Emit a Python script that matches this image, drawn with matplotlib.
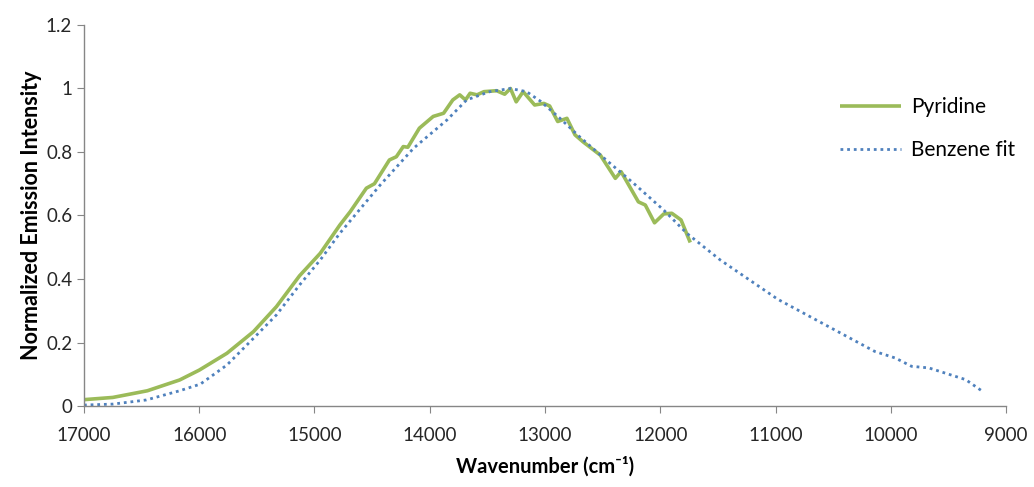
import numpy as np
import matplotlib
matplotlib.use('Agg')
import matplotlib.pyplot as plt
from matplotlib.ticker import FuncFormatter

# Pyridine emission
pyr_wn = [17000, 16750, 16450, 16170, 16000, 15760, 15530, 15330, 15130, 14950,
          14780, 14690, 14550, 14480, 14350, 14290, 14230, 14190, 14090, 13970,
          13880, 13800, 13740, 13690, 13650, 13590, 13530, 13420, 13350, 13300,
          13250, 13190, 13090, 13010, 12960, 12890, 12810, 12740, 12670, 12520,
          12390, 12340, 12190, 12130, 12050, 11970, 11900, 11820, 11740]
pyr_int = [0.020, 0.027, 0.048, 0.082, 0.113, 0.166, 0.234, 0.313, 0.410, 0.481,
           0.570, 0.612, 0.686, 0.700, 0.775, 0.785, 0.817, 0.815, 0.875, 0.912,
           0.922, 0.964, 0.980, 0.964, 0.985, 0.980, 0.990, 0.993, 0.982, 1.000,
           0.958, 0.990, 0.948, 0.953, 0.945, 0.896, 0.906, 0.854, 0.832, 0.790,
           0.717, 0.738, 0.643, 0.633, 0.577, 0.605, 0.607, 0.586, 0.515]

# Benzene fit
benz_wn = [17000, 16750, 16460, 16170, 15990, 15760, 15530, 15330, 15130, 14950,
           14780, 14430, 14140, 13850, 13680, 13480, 13300, 13160, 13040, 12870,
           12700, 12470, 12230, 11970, 11770, 11480, 10980, 10550, 10140, 9960,
           9820, 9670, 9350, 9200]
benz_int = [0.003, 0.006, 0.019, 0.048, 0.069, 0.129, 0.213, 0.287, 0.381, 0.460,
            0.544, 0.696, 0.812, 0.901, 0.964, 0.990, 1.000, 0.990, 0.960, 0.906,
            0.848, 0.775, 0.701, 0.617, 0.544, 0.460, 0.336, 0.252, 0.172, 0.151,
            0.125, 0.120, 0.083, 0.045]

x_ticks = np.arange(17000, 8999, -1000)
y_ticks = [0, 0.2, 0.4, 0.6, 0.8, 1.0, 1.2]

plt.rcParams['font.family'] = ['Lato', 'DejaVu Sans']
grey = '#868686'

fig = plt.figure(figsize=(10.34, 4.87), dpi=100)
ax = fig.add_axes([0.0812, 0.1663, 0.8918, 0.7824])

ax.plot(pyr_wn, pyr_int, color='#9BBB59', lw=2.6, label='Pyridine',
        solid_joinstyle='round', solid_capstyle='butt')
ax.plot(benz_wn, benz_int, color='#4F81BD', lw=2.0, ls=(0, (1, 1.4)),
        label='Benzene fit')

ax.set_xlim(17000, 9000)
ax.set_ylim(0, 1.2)
ax.set_xticks(x_ticks)
ax.set_yticks(y_ticks)
ax.yaxis.set_major_formatter(FuncFormatter(lambda v, p: f'{v:g}'))

for s in ['top', 'right']:
    ax.spines[s].set_visible(False)
for s in ['left', 'bottom']:
    ax.spines[s].set_color(grey)
    ax.spines[s].set_linewidth(1)
ax.tick_params(axis='both', direction='out', length=5, color=grey,
               labelsize=13.5, labelcolor='#262626')
ax.tick_params(axis='x', pad=10)

ax.set_xlabel('Wavenumber (cm⁻¹)', fontsize=14.5, fontweight='bold', labelpad=9)
ax.set_ylabel('Normalized Emission Intensity', fontsize=15.5, fontweight='bold',
              labelpad=3)

leg = ax.legend(loc='upper left', bbox_to_anchor=(0.8, 0.86), frameon=False,
                fontsize=15, handlelength=2.9, labelspacing=1.1, handletextpad=0.5)

fig.savefig('out.png', dpi=100)
